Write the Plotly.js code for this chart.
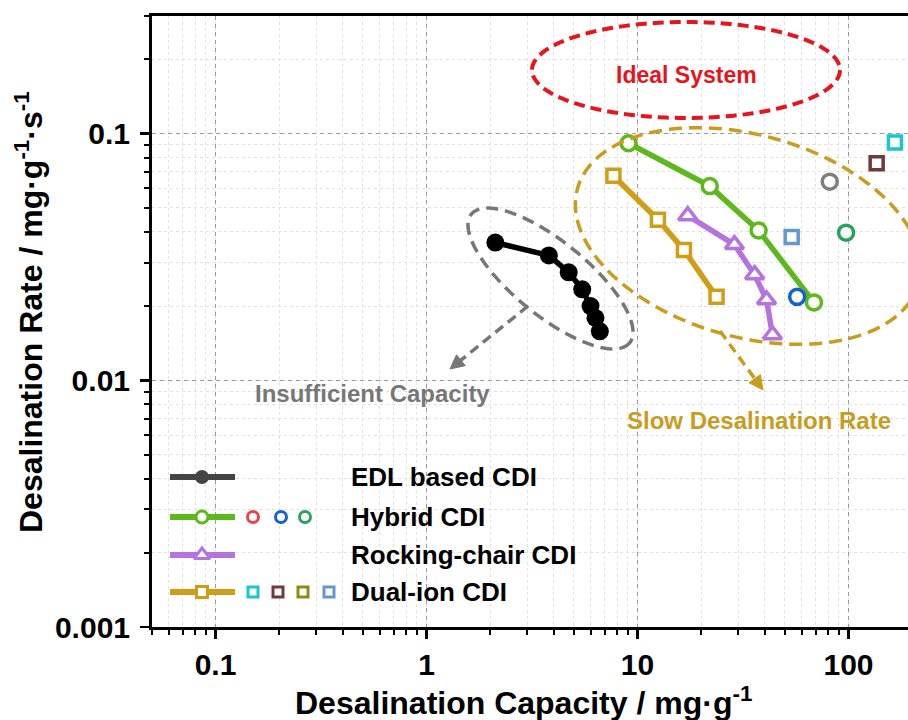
<!DOCTYPE html>
<html><head><meta charset="utf-8">
<script src="https://cdn.plot.ly/plotly-3.0.1.min.js"></script>
<style>html,body{margin:0;padding:0;background:#fff;overflow:hidden;width:908px;height:720px}#chart{width:920px;height:720px}</style>
</head><body><div id="chart"></div>
<script>
// ---------------- DATA ----------------
const seriesNames = ['EDL based CDI', 'Hybrid CDI', 'Rocking-chair CDI', 'Dual-ion CDI'];

const edlCapacity = [2.12, 3.80, 4.72, 5.47, 5.99, 6.32, 6.63];
const edlRate     = [0.0362, 0.0321, 0.0274, 0.0234, 0.0200, 0.0179, 0.0158];

const hybridCapacity = [9.07, 22.0, 37.5, 68.6];
const hybridRate     = [0.0915, 0.0613, 0.0405, 0.0207];

const rockingCapacity = [17.3, 28.8, 35.9, 40.9, 43.6];
const rockingRate     = [0.0465, 0.0355, 0.0268, 0.0212, 0.0153];

const dualCapacity = [7.69, 12.5, 16.6, 23.7];
const dualRate     = [0.0675, 0.0448, 0.0338, 0.0218];

const hybridExtraCapacity = [81.5, 97.4, 57.1];
const hybridExtraRate     = [0.0639, 0.0397, 0.0218];

const dualExtraCapacity = [53.8, 136, 166];
const dualExtraRate     = [0.0381, 0.0758, 0.0921];

const xTickVals = [0.1, 1, 10, 100];
const xTickText = ['0.1', '1', '10', '100'];
const yTickVals = [0.001, 0.01, 0.1];
const yTickText = ['0.001', '0.01', '0.1'];

const xTitle = 'Desalination Capacity / mg·g<sup>-1</sup>';
const yTitle = 'Desalination Rate / mg·g<sup>-1</sup>·s<sup>-1</sup>';
const regionLabels = ['Ideal System', 'Insufficient Capacity', 'Slow Desalination Rate'];

// ---------------- STYLE ----------------
const FONT = 'Liberation Sans, Arial, Helvetica, sans-serif';
const COL = {
  edl: '#000000', edlLegend: '#444444',
  hybrid: '#5cb81b', rock: '#b673e0', dual: '#cf9d16',
  hybridExtra: ['#7f7f7f', '#27a35b', '#1560d9'],
  hybridExtraLegend: ['#e8434a', '#1560d9', '#27a35b'],
  dualExtra: ['#6398d0', '#6e3b3b', '#19c5cf'],
  dualExtraLegend: ['#19c5cf', '#6e3b3b', '#8c8c14', '#6398d0'],
  red: '#e8141c', grey: '#777777', gold: '#c89c1c'
};

// plot geometry (pixels)
const L = 152, W = 760, T = 16, H = 611, B = T + H;
const px = x => (x - L) / W;
const py = y => (B - y) / H;

function ellipsePath(cx, cy, a, b, deg) {
  const th = deg * Math.PI / 180, n = 140;
  let d = '';
  for (let i = 0; i <= n; i++) {
    const t = 2 * Math.PI * i / n;
    const x = cx + a * Math.cos(th) * Math.cos(t) - b * Math.sin(th) * Math.sin(t);
    const y = cy + a * Math.sin(th) * Math.cos(t) + b * Math.cos(th) * Math.sin(t);
    d += (i === 0 ? 'M' : 'L') + px(x).toFixed(5) + ',' + py(y).toFixed(5);
  }
  return d + 'Z';
}

function arrowShapes(x0, y0, x1, y1, color) {
  const dx = x1 - x0, dy = y1 - y0, len = Math.hypot(dx, dy);
  const ux = dx / len, uy = dy / len, hl = 14, hw = 7;
  const bx = x1 - ux * hl, by = y1 - uy * hl;
  const p1 = [bx - uy * hw, by + ux * hw], p2 = [bx + uy * hw, by - ux * hw];
  return [
    {type: 'line', xref: 'paper', yref: 'paper', x0: px(x0), y0: py(y0), x1: px(bx + ux * 2), y1: py(by + uy * 2),
     line: {color: color, width: 3.5, dash: '10px,6px'}},
    {type: 'path', xref: 'paper', yref: 'paper',
     path: 'M' + px(x1) + ',' + py(y1) + 'L' + px(p1[0]) + ',' + py(p1[1]) + 'L' + px(p2[0]) + ',' + py(p2[1]) + 'Z',
     fillcolor: color, line: {color: color, width: 1}}
  ];
}

// ---------------- TRACES ----------------
const traces = [
  {x: edlCapacity, y: edlRate, mode: 'lines+markers', name: seriesNames[0],
   line: {color: COL.edl, width: 5.5}, marker: {symbol: 'circle', size: 18, color: COL.edl}},
  {x: dualCapacity, y: dualRate, mode: 'lines+markers', name: seriesNames[3],
   line: {color: COL.dual, width: 5.5}, marker: {symbol: 'square', size: 13, color: '#fff', line: {color: COL.dual, width: 3.5}}},
  {x: rockingCapacity, y: rockingRate, mode: 'lines+markers', name: seriesNames[2],
   line: {color: COL.rock, width: 5.5}, marker: {symbol: 'triangle-up', size: 16, color: '#fff', line: {color: COL.rock, width: 3.5}}},
  {x: hybridCapacity, y: hybridRate, mode: 'lines+markers', name: seriesNames[1],
   line: {color: COL.hybrid, width: 5.5}, marker: {symbol: 'circle', size: 15, color: '#fff', line: {color: COL.hybrid, width: 3.5}}},
  {x: hybridExtraCapacity, y: hybridExtraRate, mode: 'markers', name: 'Hybrid CDI (other)',
   marker: {symbol: 'circle', size: 15, color: '#fff', line: {color: COL.hybridExtra, width: 3.5}}},
  {x: dualExtraCapacity, y: dualExtraRate, mode: 'markers', name: 'Dual-ion CDI (other)',
   marker: {symbol: 'square', size: 13, color: '#fff', line: {color: COL.dualExtra, width: 3.5}}}
];

// ---------------- CUSTOM LEGEND (overlay axes 0..1 = paper) ----------------
const LEG = {rows: [477, 517, 555, 592], lineX0: 170, lineX1: 235, markX: 202, textX: 349,
  extraCircleX: [253, 281, 305], extraSquareX: [253, 278, 303, 329]};
const legSpecs = [
  {color: COL.edlLegend, marker: {symbol: 'circle', size: 14, color: COL.edlLegend}},
  {color: COL.hybrid, marker: {symbol: 'circle', size: 12, color: '#fff', line: {color: COL.hybrid, width: 3}}},
  {color: COL.rock, marker: {symbol: 'triangle-up', size: 14, color: '#fff', line: {color: COL.rock, width: 3}}},
  {color: COL.dual, marker: {symbol: 'square', size: 11, color: '#fff', line: {color: COL.dual, width: 3}}}
];
legSpecs.forEach((s, i) => {
  const yy = py(LEG.rows[i]);
  traces.push({x: [px(LEG.lineX0), px(LEG.lineX1)], y: [yy, yy], xaxis: 'x2', yaxis: 'y2', mode: 'lines',
    line: {color: s.color, width: 6}, showlegend: false, hoverinfo: 'skip'});
  traces.push({x: [px(LEG.markX)], y: [yy], xaxis: 'x2', yaxis: 'y2', mode: 'markers',
    marker: s.marker, showlegend: false, hoverinfo: 'skip'});
});
traces.push({x: LEG.extraCircleX.map(px), y: LEG.extraCircleX.map(() => py(LEG.rows[1])), xaxis: 'x2', yaxis: 'y2',
  mode: 'markers', marker: {symbol: 'circle', size: 11, color: '#fff', line: {color: COL.hybridExtraLegend, width: 3}},
  showlegend: false, hoverinfo: 'skip'});
traces.push({x: LEG.extraSquareX.map(px), y: LEG.extraSquareX.map(() => py(LEG.rows[3])), xaxis: 'x2', yaxis: 'y2',
  mode: 'markers', marker: {symbol: 'square', size: 10, color: '#fff', line: {color: COL.dualExtraLegend, width: 3}},
  showlegend: false, hoverinfo: 'skip'});

const annotations = seriesNames.map((n, i) => ({
  xref: 'paper', yref: 'paper', x: px(LEG.textX), y: py(LEG.rows[i]), xanchor: 'left', yanchor: 'middle',
  text: n, showarrow: false, font: {family: FONT, size: 26, weight: 'bold', color: '#000'}
}));
annotations.push(
  {xref: 'paper', yref: 'paper', x: px(686), y: py(75), text: regionLabels[0], showarrow: false,
   xanchor: 'center', yanchor: 'middle', font: {family: FONT, size: 23, weight: 'bold', color: COL.red}},
  {xref: 'paper', yref: 'paper', x: px(372), y: py(393), text: regionLabels[1], showarrow: false,
   xanchor: 'center', yanchor: 'middle', font: {family: FONT, size: 24, weight: 'bold', color: COL.grey}},
  {xref: 'paper', yref: 'paper', x: px(759), y: py(420), text: regionLabels[2], showarrow: false,
   xanchor: 'center', yanchor: 'middle', font: {family: FONT, size: 24, weight: 'bold', color: COL.gold}},
  // axis titles
  {xref: 'paper', yref: 'paper', x: px(523), y: py(701), text: xTitle, showarrow: false,
   xanchor: 'center', yanchor: 'middle', font: {family: FONT, size: 32, weight: 'bold', color: '#000'}},
  {xref: 'paper', yref: 'paper', x: px(29), y: py(312), text: yTitle, showarrow: false, textangle: -90,
   xanchor: 'center', yanchor: 'middle', font: {family: FONT, size: 32, weight: 'bold', color: '#000'}}
);

const shapes = [
  {type: 'path', xref: 'paper', yref: 'paper', path: ellipsePath(686, 70, 154, 48, 0),
   line: {color: COL.red, width: 4, dash: '11px,6px'}, layer: 'above'},
  {type: 'path', xref: 'paper', yref: 'paper', path: ellipsePath(550.5, 278.5, 102, 37, 39.1),
   line: {color: COL.grey, width: 3.5, dash: '12px,7px'}, layer: 'above'},
  {type: 'path', xref: 'paper', yref: 'paper', path: ellipsePath(748, 236, 177, 101, 15.6),
   line: {color: COL.gold, width: 3.5, dash: '13px,7px'}, layer: 'above'},
  ...arrowShapes(528, 306, 450, 369, COL.grey),
  ...arrowShapes(720, 331, 763, 390, COL.gold)
];

const axisCommon = {
  type: 'log', showline: true, linecolor: '#000', linewidth: 3, mirror: true,
  ticks: 'outside', ticklen: 9, tickwidth: 2.5, tickcolor: '#000',
  showgrid: true, gridcolor: '#9a9a9a', gridwidth: 1, griddash: '4px,4px',
  zeroline: false, tickmode: 'array',
  tickfont: {family: FONT, size: 30, weight: 'bold', color: '#000'},
  minor: {dtick: 'D1', ticks: 'outside', ticklen: 5, tickwidth: 2, tickcolor: '#000',
          showgrid: true, gridcolor: '#e2e2e2', gridwidth: 1, griddash: 'dot'},
  fixedrange: true
};

const layout = {
  width: 920, height: 720,
  margin: {l: L, r: 920 - L - W, t: T, b: 720 - B},
  paper_bgcolor: '#fff', plot_bgcolor: '#fff',
  showlegend: false,
  xaxis: Object.assign({}, axisCommon, {
    range: [Math.log10(0.05), Math.log10(200)],
    tickvals: xTickVals, ticktext: xTickText, ticklabelstandoff: 0
  }),
  yaxis: Object.assign({}, axisCommon, {
    range: [Math.log10(0.001), Math.log10(0.3)],
    tickvals: yTickVals, ticktext: yTickText, ticklabelstandoff: 4
  }),
  xaxis2: {overlaying: 'x', range: [0, 1], visible: false, fixedrange: true},
  yaxis2: {overlaying: 'y', range: [0, 1], visible: false, fixedrange: true},
  annotations: annotations,
  shapes: shapes
};

Plotly.newPlot('chart', traces, layout, {displayModeBar: false, staticPlot: true});
</script></body></html>
